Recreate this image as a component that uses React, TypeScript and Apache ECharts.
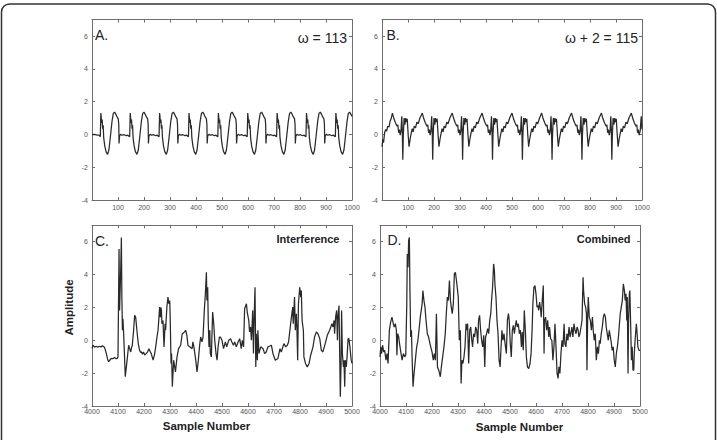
import React, { useEffect, useRef } from "react";
import * as echarts from "echarts";

const FONT = "'Liberation Sans', Arial, Helvetica, sans-serif";

// Panel A: omega = 113 (sample, amplitude)
const seriesA: number[][] = [
  [0, -0.02], [10, 0], [20, -0.05], [28, -0.05], [32, -0.15],
  [34, 1.3], [36, 0.95], [37, 0.7], [39, 0.9], [41, 0.35], [43, 0.55], [45, -0.2], [49, -0.7], [54, -1.05], [60, -1.22], [65, -0.95], [71, -0.1], [77, 0.8], [82, 1.28], [87, 1.36], [92, 1.22], [97, 1.05], [101, 0.95], [103, 0.6], [104, -0.55], [106, -0.1], [110, 0], [116, -0.05], [124, -0.02], [132, -0.08], [138, -0.05], [141, -0.1], [145, -0.15],
  [147, 1.3], [149, 0.95], [150, 0.7], [152, 0.9], [154, 0.35], [156, 0.55], [158, -0.2], [162, -0.7], [167, -1.05], [173, -1.22], [178, -0.95], [184, -0.1], [190, 0.8], [195, 1.28], [200, 1.36], [205, 1.22], [210, 1.05], [214, 0.95], [216, 0.6], [217, -0.55], [219, -0.1], [223, 0], [229, -0.05], [237, -0.02], [245, -0.08], [251, -0.05], [254, -0.1], [258, -0.15],
  [260, 1.3], [262, 0.95], [263, 0.7], [265, 0.9], [267, 0.35], [269, 0.55], [271, -0.2], [275, -0.7], [280, -1.05], [286, -1.22], [291, -0.95], [297, -0.1], [303, 0.8], [308, 1.28], [313, 1.36], [318, 1.22], [323, 1.05], [327, 0.95], [329, 0.6], [330, -0.55], [332, -0.1], [336, 0], [342, -0.05], [350, -0.02], [358, -0.08], [364, -0.05], [367, -0.1], [371, -0.15],
  [373, 1.3], [375, 0.95], [376, 0.7], [378, 0.9], [380, 0.35], [382, 0.55], [384, -0.2], [388, -0.7], [393, -1.05], [399, -1.22], [404, -0.95], [410, -0.1], [416, 0.8], [421, 1.28], [426, 1.36], [431, 1.22], [436, 1.05], [440, 0.95], [442, 0.6], [443, -0.55], [445, -0.1], [449, 0], [455, -0.05], [463, -0.02], [471, -0.08], [477, -0.05], [480, -0.1], [484, -0.15],
  [486, 1.3], [488, 0.95], [489, 0.7], [491, 0.9], [493, 0.35], [495, 0.55], [497, -0.2], [501, -0.7], [506, -1.05], [512, -1.22], [517, -0.95], [523, -0.1], [529, 0.8], [534, 1.28], [539, 1.36], [544, 1.22], [549, 1.05], [553, 0.95], [555, 0.6], [556, -0.55], [558, -0.1], [562, 0], [568, -0.05], [576, -0.02], [584, -0.08], [590, -0.05], [593, -0.1], [597, -0.15],
  [599, 1.3], [601, 0.95], [602, 0.7], [604, 0.9], [606, 0.35], [608, 0.55], [610, -0.2], [614, -0.7], [619, -1.05], [625, -1.22], [630, -0.95], [636, -0.1], [642, 0.8], [647, 1.28], [652, 1.36], [657, 1.22], [662, 1.05], [666, 0.95], [668, 0.6], [669, -0.55], [671, -0.1], [675, 0], [681, -0.05], [689, -0.02], [697, -0.08], [703, -0.05], [706, -0.1], [710, -0.15],
  [712, 1.3], [714, 0.95], [715, 0.7], [717, 0.9], [719, 0.35], [721, 0.55], [723, -0.2], [727, -0.7], [732, -1.05], [738, -1.22], [743, -0.95], [749, -0.1], [755, 0.8], [760, 1.28], [765, 1.36], [770, 1.22], [775, 1.05], [779, 0.95], [781, 0.6], [782, -0.55], [784, -0.1], [788, 0], [794, -0.05], [802, -0.02], [810, -0.08], [816, -0.05], [819, -0.1], [823, -0.15],
  [825, 1.3], [827, 0.95], [828, 0.7], [830, 0.9], [832, 0.35], [834, 0.55], [836, -0.2], [840, -0.7], [845, -1.05], [851, -1.22], [856, -0.95], [862, -0.1], [868, 0.8], [873, 1.28], [878, 1.36], [883, 1.22], [888, 1.05], [892, 0.95], [894, 0.6], [895, -0.55], [897, -0.1], [901, 0], [907, -0.05], [915, -0.02], [923, -0.08], [929, -0.05], [932, -0.1], [936, -0.15],
  [938, 1.3], [940, 0.95], [941, 0.7], [943, 0.9], [945, 0.35], [947, 0.55], [949, -0.2], [953, -0.7], [958, -1.05], [964, -1.22], [969, -0.95], [975, -0.1], [981, 0.8], [986, 1.28], [991, 1.36], [996, 1.22], [1000, 1.1],
];

// Panel B: omega + 2 = 115
const seriesB: number[][] = [
  [0, -0.75], [3, -0.3], [6, -0.5], [10, 0.1], [14, 0.3], [18, 0.2], [22, 0.5], [27, 0.45], [31, 0.8], [35, 0.95],
  [40, 1.3], [46, 0.95], [52, 0.7], [58, 0.5], [61, 0.58], [64, 0.1], [67, 0.3], [70, -0.05], [73, 0.2], [76, 1.1], [78, 0.3], [80, -1.55], [82, 0], [85, 1.0], [88, 0.6], [91, 1.0], [94, 0.75], [97, 0.95], [101, -0.1], [104, -0.75], [108, -0.3], [112, 0.05], [116, 0.35], [120, 0.15], [124, 0.5], [129, 0.4], [134, 0.75], [139, 0.65], [146, 1.0],
  [155, 1.3], [161, 0.95], [167, 0.7], [173, 0.5], [176, 0.58], [179, 0.1], [182, 0.3], [185, -0.05], [188, 0.2], [191, 1.1], [193, 0.3], [195, -1.55], [197, 0], [200, 1.0], [203, 0.6], [206, 1.0], [209, 0.75], [212, 0.95], [216, -0.1], [219, -0.75], [223, -0.3], [227, 0.05], [231, 0.35], [235, 0.15], [239, 0.5], [244, 0.4], [249, 0.75], [254, 0.65], [261, 1.0],
  [270, 1.3], [276, 0.95], [282, 0.7], [288, 0.5], [291, 0.58], [294, 0.1], [297, 0.3], [300, -0.05], [303, 0.2], [306, 1.1], [308, 0.3], [310, -1.55], [312, 0], [315, 1.0], [318, 0.6], [321, 1.0], [324, 0.75], [327, 0.95], [331, -0.1], [334, -0.75], [338, -0.3], [342, 0.05], [346, 0.35], [350, 0.15], [354, 0.5], [359, 0.4], [364, 0.75], [369, 0.65], [376, 1.0],
  [385, 1.3], [391, 0.95], [397, 0.7], [403, 0.5], [406, 0.58], [409, 0.1], [412, 0.3], [415, -0.05], [418, 0.2], [421, 1.1], [423, 0.3], [425, -1.55], [427, 0], [430, 1.0], [433, 0.6], [436, 1.0], [439, 0.75], [442, 0.95], [446, -0.1], [449, -0.75], [453, -0.3], [457, 0.05], [461, 0.35], [465, 0.15], [469, 0.5], [474, 0.4], [479, 0.75], [484, 0.65], [491, 1.0],
  [500, 1.3], [506, 0.95], [512, 0.7], [518, 0.5], [521, 0.58], [524, 0.1], [527, 0.3], [530, -0.05], [533, 0.2], [536, 1.1], [538, 0.3], [540, -1.55], [542, 0], [545, 1.0], [548, 0.6], [551, 1.0], [554, 0.75], [557, 0.95], [561, -0.1], [564, -0.75], [568, -0.3], [572, 0.05], [576, 0.35], [580, 0.15], [584, 0.5], [589, 0.4], [594, 0.75], [599, 0.65], [606, 1.0],
  [614, 1.3], [620, 0.95], [626, 0.7], [632, 0.5], [635, 0.58], [638, 0.1], [641, 0.3], [644, -0.05], [647, 0.2], [650, 1.1], [652, 0.3], [654, -1.55], [656, 0], [659, 1.0], [662, 0.6], [665, 1.0], [668, 0.75], [671, 0.95], [675, -0.1], [678, -0.75], [682, -0.3], [686, 0.05], [690, 0.35], [694, 0.15], [698, 0.5], [703, 0.4], [708, 0.75], [713, 0.65], [720, 1.0],
  [729, 1.3], [735, 0.95], [741, 0.7], [747, 0.5], [750, 0.58], [753, 0.1], [756, 0.3], [759, -0.05], [762, 0.2], [765, 1.1], [767, 0.3], [769, -1.55], [771, 0], [774, 1.0], [777, 0.6], [780, 1.0], [783, 0.75], [786, 0.95], [790, -0.1], [793, -0.75], [797, -0.3], [801, 0.05], [805, 0.35], [809, 0.15], [813, 0.5], [818, 0.4], [823, 0.75], [828, 0.65], [835, 1.0],
  [844, 1.3], [850, 0.95], [856, 0.7], [862, 0.5], [865, 0.58], [868, 0.1], [871, 0.3], [874, -0.05], [877, 0.2], [880, 1.1], [882, 0.3], [884, -1.55], [886, 0], [889, 1.0], [892, 0.6], [895, 1.0], [898, 0.75], [901, 0.95], [905, -0.1], [908, -0.75], [912, -0.3], [916, 0.05], [920, 0.35], [924, 0.15], [928, 0.5], [933, 0.4], [938, 0.75], [943, 0.65], [950, 1.0],
  [959, 1.3], [965, 0.95], [971, 0.7], [977, 0.5], [980, 0.58], [983, 0.1], [986, 0.3], [989, -0.05], [993, 0.2], [997, 1.1], [1000, 0.3],
];

// Panel C: Interference
const seriesC: number[][] = [
  [4000, -0.5], [4004, -0.3], [4010, -0.42], [4016, -0.36], [4022, -0.42], [4028, -0.36], [4034, -0.4], [4040, -0.34], [4048, -0.42],
  [4055, -0.8], [4060, -1.15], [4064, -1.3], [4069, -1.2], [4074, -1.1], [4080, -1.12], [4087, -1.05], [4093, -1.12], [4097, -1.1], [4100, -1.0],
  [4104, 5.56], [4106, 1.82], [4110, 4.0], [4113, 6.26], [4115, 2.5], [4117, 0.61], [4119, 1.31], [4122, 0.3], [4128, -2.22], [4135, -1.21],
  [4141, -0.3], [4145, -0.51], [4149, -0.71], [4152, -0.45], [4155, -0.3], [4160, 0.6], [4164, 1.52], [4168, 1.41], [4174, 0.4], [4178, -0.2],
  [4183, -0.61], [4187, -0.75], [4190, -0.7], [4194, -0.85], [4198, -0.72], [4203, -0.9], [4209, -0.8], [4214, -0.7], [4219, -0.51], [4224, -0.7],
  [4228, -0.81], [4235, -1.21], [4240, -0.9], [4245, -0.4], [4250, 0.2], [4254, 0.61], [4258, 1.5], [4260, 2.02], [4263, 1.41], [4265, 2.0],
  [4267, 1.82], [4269, 1.01], [4273, 1.21], [4277, -0.4], [4281, 1.01], [4283, 0.61], [4288, 2.02], [4292, 2.63], [4296, 2.22], [4299, 2.42],
  [4301, 1.21], [4304, -1.41], [4306, -0.81], [4309, -2.83], [4314, -1.21], [4321, -1.92], [4327, -1.01], [4333, -0.51], [4341, -0.3], [4347, 0.4],
  [4352, 0.45], [4356, 0.51], [4360, 0.61], [4365, 0.3], [4369, -0.3], [4376, -0.4], [4385, -0.51], [4388, -0.1], [4392, -0.4], [4399, -1.21],
  [4404, -1.92], [4409, -1.21], [4414, -0.3], [4418, 0.2], [4423, -0.1], [4427, 0.2], [4432, 1.82], [4436, 2.83], [4440, 4.14], [4442, 2.42],
  [4445, 3.23], [4447, 1.21], [4450, -0.4], [4453, 0.61], [4455, -0.81], [4459, -1.01], [4462, 0.61], [4464, 1.72], [4467, 1.21], [4469, 0.81],
  [4472, 0.0], [4477, -0.81], [4481, -1.21], [4485, -0.4], [4490, 0.2], [4494, 0.2], [4500, 0.0], [4506, -0.51], [4513, -0.1], [4518, -0.4],
  [4526, 0.0], [4533, 0.1], [4538, -0.1], [4544, -0.3], [4549, -0.1], [4555, -0.4], [4562, -0.1], [4568, 0.1], [4574, -0.51], [4578, 0.0],
  [4583, -0.4], [4587, 1.92], [4594, 2.22], [4597, 1.72], [4603, 1.21], [4606, 0.51], [4610, 0.81], [4613, 0.0], [4615, 0.61], [4618, 1.82],
  [4621, -0.81], [4623, 1.01], [4627, 3.23], [4630, -1.62], [4632, 0.4], [4636, -1.21], [4638, 0.61], [4642, -0.81], [4649, -0.4], [4658, -0.51],
  [4664, -0.81], [4670, -0.71], [4677, -0.4], [4684, -0.35], [4690, -0.3], [4696, -0.81], [4705, -1.21], [4715, -1.11], [4723, -0.51], [4728, -0.71],
  [4738, -0.2], [4745, -0.4], [4751, -0.3], [4756, -0.1], [4764, 1.01], [4772, 2.02], [4774, 1.01], [4779, 2.63], [4782, 0.61], [4786, 1.62],
  [4788, 0.81], [4791, -1.21], [4794, 2.22], [4799, 3.23], [4803, 2.63], [4805, 3.03], [4808, 1.21], [4813, 0.61], [4815, -1.01], [4821, -1.41],
  [4828, -1.62], [4835, -1.41], [4841, -0.91], [4850, -0.4], [4856, 0.2], [4863, 0.51], [4869, 0.4], [4876, 0.1], [4882, -0.61], [4888, -0.71],
  [4897, -0.2], [4905, 0.3], [4914, 0.61], [4923, 1.01], [4927, 0.81], [4931, 1.21], [4933, 0.4], [4937, 1.41], [4941, 1.82], [4944, 0.0],
  [4946, 1.41], [4950, 2.12], [4953, -1.21], [4955, -3.43], [4958, -1.41], [4960, 1.82], [4963, -0.81], [4967, -1.62], [4969, -1.21], [4972, -2.83],
  [4974, -1.21], [4978, -1.62], [4981, -1.01], [4985, 0.1], [4988, 0.1], [4992, -0.4], [4997, -1.21], [5000, -1.41],
];

// Panel D: Combined
const seriesD: number[][] = [
  [4000, -1.01], [4003, -0.4], [4006, -0.81], [4010, -0.3], [4014, -0.71], [4018, -0.61], [4023, -1.21], [4027, -0.81], [4031, -1.41], [4036, 0.61],
  [4041, 1.11], [4046, 1.41], [4051, 1.01], [4055, 0.81], [4059, 1.01], [4063, 0.61], [4065, -0.91], [4068, 0.4], [4072, 0.2], [4076, -0.3],
  [4079, -0.61], [4085, -1.21], [4090, -0.81], [4095, -1.01], [4099, -0.91], [4103, 2.22], [4105, 5.25], [4108, 4.44], [4110, 6.06], [4113, 6.26],
  [4115, 3.23], [4118, 0.2], [4121, 0.61], [4123, -0.81], [4127, -2.83], [4131, -2.02], [4136, -1.21], [4141, -0.4], [4145, -0.1], [4150, 0.61],
  [4155, 1.41], [4162, 2.22], [4165, 3.03], [4169, 2.42], [4173, 2.02], [4177, 1.21], [4182, 0.4], [4187, 0.2], [4192, -0.2], [4200, -0.71],
  [4205, -1.21], [4209, -0.81], [4213, -1.21], [4217, 1.62], [4221, -1.62], [4226, -1.82], [4232, -2.22], [4236, -1.62], [4241, -1.01], [4246, -0.4],
  [4251, 0.4], [4255, 1.62], [4259, 2.63], [4263, 2.42], [4267, 3.64], [4271, 2.42], [4274, 2.02], [4278, 1.62], [4282, 2.22], [4286, 4.04],
  [4290, 4.14], [4294, 3.64], [4297, 3.23], [4301, 2.63], [4305, 0.0], [4309, 0.61], [4312, -2.63], [4315, -1.21], [4319, -1.41], [4323, -1.01],
  [4327, -0.4], [4331, 1.01], [4333, 0.61], [4337, 1.01], [4341, -1.41], [4345, 0.61], [4349, 0.81], [4353, 0.0], [4356, -0.4], [4360, 0.4],
  [4364, 0.2], [4368, 0.81], [4372, 0.61], [4376, -0.2], [4379, 1.21], [4383, 1.52], [4387, 0.61], [4391, 0.0], [4395, -0.4], [4399, 0.3],
  [4403, -1.62], [4406, 0.2], [4410, 0.4], [4414, 0.71], [4418, 0.4], [4422, 1.21], [4426, 1.62], [4429, 2.42], [4433, 3.23], [4437, 4.65],
  [4440, 4.24], [4442, 3.43], [4446, 2.63], [4450, 1.21], [4454, 0.4], [4458, -1.21], [4462, -1.62], [4465, -0.61], [4469, 0.61], [4473, 0.0],
  [4477, 0.4], [4481, -0.2], [4486, -0.81], [4490, 1.21], [4494, 1.62], [4497, 1.21], [4501, -0.2], [4505, -1.01], [4509, 0.61], [4513, 0.91],
  [4517, 0.4], [4520, 0.81], [4524, 1.21], [4528, 0.81], [4532, 1.01], [4536, 0.4], [4540, 0.61], [4544, -0.4], [4547, 0.51], [4551, -0.61],
  [4555, 1.82], [4559, 0.61], [4563, -1.01], [4567, -1.62], [4572, -1.72], [4577, -1.41], [4581, -0.81], [4585, 0.61], [4588, 2.22], [4592, 3.23],
  [4596, 3.33], [4600, 2.83], [4604, 2.02], [4608, 2.12], [4610, 1.82], [4614, 2.32], [4618, 1.82], [4620, 1.41], [4624, 2.42], [4628, 3.33],
  [4631, -0.81], [4633, 1.21], [4637, 1.41], [4641, 0.61], [4645, 1.21], [4649, 0.2], [4652, 0.81], [4656, 0.1], [4661, 0.0], [4665, -1.21],
  [4669, -0.4], [4673, 1.01], [4677, -0.4], [4681, -2.02], [4685, -2.32], [4688, -1.62], [4692, -2.02], [4696, -0.81], [4700, 0.0], [4704, -0.4],
  [4708, 1.01], [4711, -0.2], [4715, -0.4], [4719, 0.4], [4723, 0.0], [4727, 0.81], [4731, 0.2], [4734, 0.4], [4738, 0.81], [4742, 0.2],
  [4746, 1.01], [4750, 0.61], [4754, 0.4], [4758, 0.81], [4762, 0.61], [4765, 0.2], [4769, 0.4], [4773, 0.81], [4777, 1.21], [4781, 3.84],
  [4783, 3.03], [4787, 2.22], [4791, 2.02], [4794, 1.62], [4796, -1.82], [4799, 1.62], [4801, 2.63], [4805, 1.41], [4809, 1.21], [4813, 0.61],
  [4817, 1.41], [4820, 0.61], [4824, 0.0], [4828, 0.4], [4832, -1.21], [4836, -0.4], [4840, -0.81], [4844, 0.0], [4847, -0.2], [4851, 0.4],
  [4855, 0.81], [4859, 1.41], [4863, 1.62], [4867, 1.41], [4870, 0.81], [4874, 0.4], [4878, 0.0], [4882, 0.61], [4886, 0.2], [4890, -0.2],
  [4893, -0.61], [4897, -0.4], [4901, -1.21], [4905, -1.62], [4909, -0.81], [4913, -0.4], [4917, 0.2], [4920, 0.81], [4924, 1.62], [4928, 2.02],
  [4932, 2.42], [4936, 3.43], [4940, 3.03], [4943, 2.42], [4946, 2.83], [4949, 1.21], [4951, 2.63], [4954, -2.02], [4956, 1.21], [4959, 2.83],
  [4961, 3.03], [4964, 1.01], [4967, -1.21], [4970, -0.4], [4973, -1.82], [4976, -1.82], [4978, -0.81], [4982, 0.2], [4986, 1.01], [4988, 0.61],
  [4992, -0.4], [4996, -0.61], [5000, -0.61],
];

const panelLetters = ["A.", "B.", "C.", "D."];
const panelNotes = ["ω = 113", "ω + 2 = 115", "Interference", "Combined"];
const xRanges: number[][] = [[0, 1000], [0, 1000], [4000, 5000], [4000, 5000]];
const yRange: number[] = [-4, 7];
const xTickStep = 100;
const yTickStep = 2;
const xAxisTitle = "Sample Number";
const yAxisTitle = "Amplitude";

export default function App() {
  const ref = useRef<HTMLDivElement>(null);

  useEffect(() => {
    if (!ref.current) return;
    const chart = echarts.init(ref.current, undefined, { renderer: "svg" });
    const grids = [
      { left: 92, top: 19.6, width: 260, height: 180.4 },
      { left: 382, top: 19.6, width: 260, height: 180.4 },
      { left: 92, top: 225.3, width: 260, height: 180.7 },
      { left: 380, top: 225.3, width: 260, height: 180.7 },
    ];
    const data = [seriesA, seriesB, seriesC, seriesD];
    const axisColor = "#6e6e6e";
    const labelColor = "#555555";
    const plain = (v: number) => String(v);
    const xAxis: any[] = [];
    const yAxis: any[] = [];
    grids.forEach((g, i) => {
      const top = i < 2;
      const common = {
        type: "value",
        gridIndex: i,
        min: xRanges[i][0],
        max: xRanges[i][1],
        interval: xTickStep,
        axisLine: { show: true, onZero: false, lineStyle: { color: axisColor, width: 1 } },
        axisTick: { show: true, inside: true, length: 3, lineStyle: { color: axisColor } },
        splitLine: { show: false },
      };
      xAxis.push({
        ...common,
        position: "bottom",
        axisLabel: {
          show: true, color: labelColor, fontSize: 7, fontFamily: FONT, formatter: plain,
          margin: top ? 4 : 2, showMinLabel: !top, showMaxLabel: true, hideOverlap: false,
        },
      });
      xAxis.push({ ...common, position: "top", axisLabel: { show: false } });
      const ycommon = {
        type: "value",
        gridIndex: i,
        min: yRange[0],
        max: yRange[1],
        interval: yTickStep,
        axisLine: { show: true, onZero: false, lineStyle: { color: axisColor, width: 1 } },
        axisTick: { show: true, inside: true, length: 3, lineStyle: { color: axisColor } },
        splitLine: { show: false },
      };
      yAxis.push({
        ...ycommon,
        position: "left",
        axisLabel: {
          show: true, color: labelColor, fontSize: 7, fontFamily: FONT, formatter: plain,
          margin: 4, showMaxLabel: false, showMinLabel: true,
        },
      });
      yAxis.push({ ...ycommon, position: "right", axisLabel: { show: false } });
    });

    const series = data.map((d, i) => ({
      type: "line",
      xAxisIndex: 2 * i,
      yAxisIndex: 2 * i,
      data: d,
      showSymbol: false,
      symbol: "none",
      lineStyle: { color: "#2a2a2a", width: 1.25 },
      silent: true,
    }));

    const txt = (text: string, x: number, y: number, size: number, weight: string, align: string, extra: any = {}) => ({
      type: "text",
      x,
      y,
      silent: true,
      ...extra,
      style: {
        text,
        fontSize: size,
        fontWeight: weight,
        fontFamily: FONT,
        fill: "#222",
        align,
        verticalAlign: "middle",
      },
    });

    const graphic: any[] = [
      {
        type: "rect",
        silent: true,
        shape: { x: 1.5, y: 4, width: 714, height: 470, r: 8 },
        style: { fill: "none", stroke: "#333", lineWidth: 1.5 },
      },
      txt(panelLetters[0], 95, 34.5, 14, "normal", "left"),
      txt(panelNotes[0], 347, 38, 14, "normal", "right"),
      txt(panelLetters[1], 386.5, 34.5, 14, "normal", "left"),
      txt(panelNotes[1], 638, 38, 14, "normal", "right"),
      txt(panelLetters[2], 95, 240.5, 14, "normal", "left"),
      txt(panelNotes[2], 339.5, 238.5, 11, "bold", "right"),
      txt(panelLetters[3], 387.5, 240, 14, "normal", "left"),
      txt(panelNotes[3], 630.5, 238.5, 11, "bold", "right"),
      txt(xAxisTitle, 206.5, 426, 11.5, "bold", "center"),
      txt(xAxisTitle, 519.5, 426.5, 11.5, "bold", "center"),
      txt(yAxisTitle, 68.5, 307.5, 11.5, "bold", "center", { rotation: Math.PI / 2 }),
    ];

    chart.setOption({
      animation: false,
      backgroundColor: "#ffffff",
      grid: grids.map((g) => ({ ...g, containLabel: false })),
      xAxis,
      yAxis,
      series,
      graphic,
    });
    return () => chart.dispose();
  }, []);

  return (
    <div style={{ position: "fixed", left: 0, top: 0, width: 717, height: 440, background: "#fff" }}>
      <div ref={ref} style={{ width: 717, height: 440 }} />
    </div>
  );
}
